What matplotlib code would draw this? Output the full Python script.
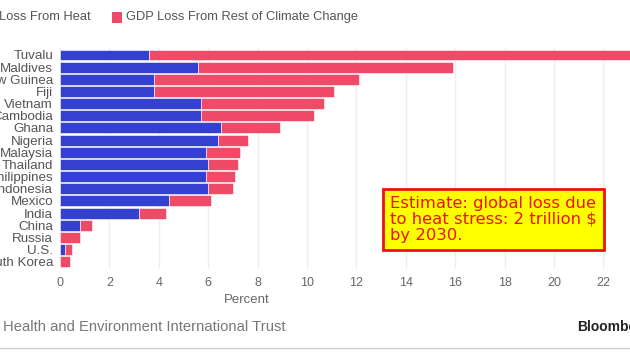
import matplotlib
matplotlib.use("Agg")
import matplotlib.pyplot as plt
from matplotlib.patches import Rectangle

countries = ["Tuvalu", "Maldives", "Papua New Guinea", "Fiji", "Vietnam", "Cambodia",
             "Ghana", "Nigeria", "Malaysia", "Thailand", "Philippines", "Indonesia",
             "Mexico", "India", "China", "Russia", "U.S.", "South Korea"]
heat_loss = [3.6, 5.6, 3.8, 3.8, 5.7, 5.7, 6.5, 6.4, 5.9, 6.0, 5.9, 6.0, 4.4, 3.2, 0.8, 0.0, 0.2, 0.0]
total_loss = [24.0, 15.9, 12.1, 11.1, 10.7, 10.3, 8.9, 7.6, 7.3, 7.2, 7.1, 7.0, 6.1, 4.3, 1.3, 0.8, 0.5, 0.4]
rest_loss = [t - h for t, h in zip(total_loss, heat_loss)]
xticks = [0, 2, 4, 6, 8, 10, 12, 14, 16, 18, 20, 22]

BLUE = "#3440cf"
PINK = "#ef4b68"
W, H = 630, 354

plt.rcParams['font.family'] = ['Liberation Sans', 'DejaVu Sans']
fig = plt.figure(figsize=(W / 100, H / 100), dpi=100)

# axes geometry in pixels: x=0 at 60px, 24.7 px per unit; xlim 0..24
x0 = 60
ppu = 24.7
xmax = 24
ytop_px, ybot_px = 47.7, 269
ax = fig.add_axes([x0 / W, 1 - ybot_px / H, xmax * ppu / W, (ybot_px - ytop_px) / H])

y = list(range(len(countries)))
ax.barh(y, heat_loss, height=0.9, color=BLUE, edgecolor="white", linewidth=0.4, zorder=3)
ax.barh(y, rest_loss, left=heat_loss, height=0.9, color=PINK, edgecolor="white", linewidth=0.4, zorder=3)

ax.set_xlim(0, xmax)
ax.set_ylim(len(countries) - 0.4, -0.6)
ax.set_yticks(y)
ax.set_yticklabels(countries, fontsize=9.6, color="#555555")
ax.set_xticks(xticks)
ax.set_xticklabels([str(t) for t in xticks], fontsize=9, color="#666666")
ax.tick_params(axis="both", length=0)
ax.tick_params(axis="y", pad=5)
ax.tick_params(axis="x", pad=6)
ax.grid(axis="x", color="#eeeeee", linewidth=1, zorder=0)
for s in ax.spines.values():
    s.set_visible(False)
ax.set_xlabel("Percent", fontsize=9.5, color="#666666")
ax.xaxis.set_label_coords((247 - x0) / (xmax * ppu), -0.115)

# legend (cropped at left)
fig.text(91 / W, 1 - 17 / H, "GDP Loss From Heat", ha="right", va="center", fontsize=9.3, color="#555555")
fig.patches.append(Rectangle((-10 / W, 1 - 23 / H), 10 / W, 11 / H, transform=fig.transFigure,
                             facecolor=BLUE, edgecolor="none"))
fig.patches.append(Rectangle((112 / W, 1 - 23 / H), 10 / W, 11 / H, transform=fig.transFigure,
                             facecolor=PINK, edgecolor="none"))
fig.text(126 / W, 1 - 17 / H, "GDP Loss From Rest of Climate Change", ha="left", va="center",
         fontsize=9.3, color="#555555")

# annotation box
fig.text(390 / W, 1 - 219.5 / H, "Estimate: global loss due\nto heat stress: 2 trillion $\nby 2030.",
         ha="left", va="center", fontsize=11.8, color="#ee1111", family="DejaVu Sans",
         linespacing=1.12,
         bbox=dict(boxstyle="square,pad=0.42", facecolor="#ffff00", edgecolor="#ee1111", linewidth=2))

# footer
fig.text(3 / W, 1 - 327 / H, "Health and Environment International Trust", ha="left", va="center",
         fontsize=10.6, color="#777777")
fig.text(577 / W, 1 - 327 / H, "Bloomberg", ha="left", va="center", fontsize=10,
         color="#222222", weight="bold")
fig.lines.append(plt.Line2D([0, 1], [1 - 348 / H, 1 - 348 / H], transform=fig.transFigure,
                            color="#cccccc", linewidth=1))

fig.savefig("out.png", dpi=100)
